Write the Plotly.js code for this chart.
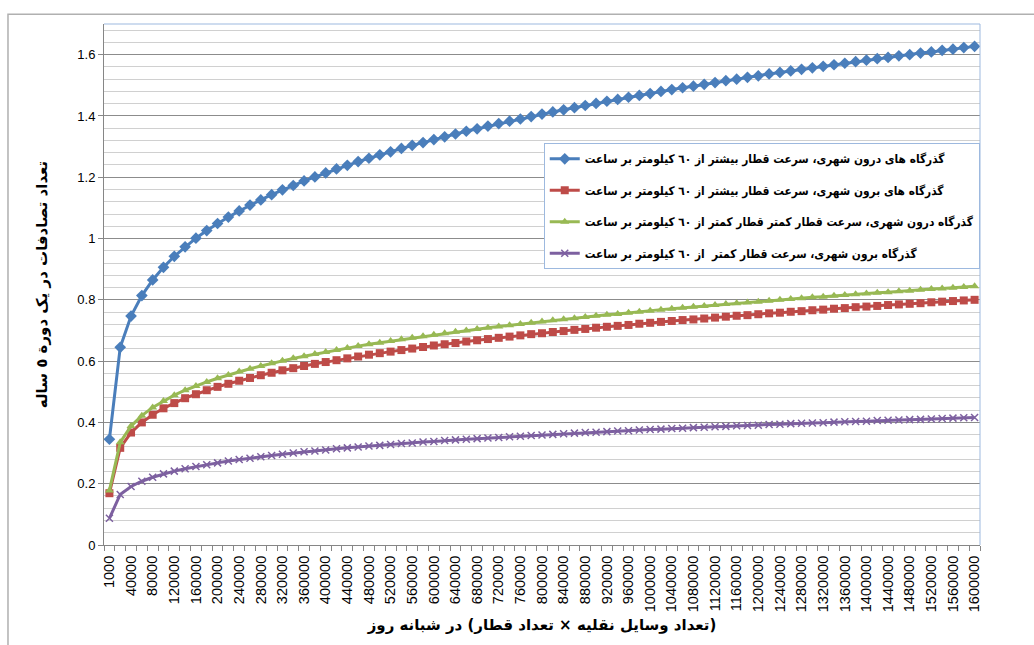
<!DOCTYPE html>
<html>
<head>
<meta charset="utf-8">
<script src="https://cdn.plot.ly/plotly-3.0.1.min.js"></script>
<style>html,body{margin:0;padding:0;background:#fff;}#chart{width:1034px;height:645px;}</style>
</head>
<body>
<div id="chart"></div>
<script>
const categories = ['1000','20000','40000','60000','80000','100000','120000','140000','160000','180000','200000',
'220000','240000','260000','280000','300000','320000','340000','360000','380000','400000',
'420000','440000','460000','480000','500000','520000','540000','560000','580000','600000',
'620000','640000','660000','680000','700000','720000','740000','760000','780000','800000',
'820000','840000','860000','880000','900000','920000','940000','960000','980000','1000000',
'1020000','1040000','1060000','1080000','1100000','1120000','1140000','1160000','1180000','1200000',
'1220000','1240000','1260000','1280000','1300000','1320000','1340000','1360000','1380000','1400000',
'1420000','1440000','1460000','1480000','1500000','1520000','1540000','1560000','1580000','1600000'];

const tickLabels = ['1000','40000','80000','120000','160000','200000','240000','280000','320000','360000','400000',
'440000','480000','520000','560000','600000','640000','680000','720000','760000','800000',
'840000','880000','920000','960000','1000000','1040000','1080000','1120000','1160000','1200000',
'1240000','1280000','1320000','1360000','1400000','1440000','1480000','1520000','1560000','1600000'];

const urbanFast = [0.345,
0.645,0.747,0.814,0.865,0.906,0.942,0.973,1.001,1.026,1.049,
1.070,1.090,1.109,1.126,1.143,1.159,1.173,1.188,1.201,1.214,
1.227,1.239,1.251,1.262,1.273,1.283,1.294,1.304,1.313,1.323,
1.332,1.341,1.350,1.358,1.367,1.375,1.383,1.390,1.398,1.406,
1.413,1.420,1.427,1.434,1.441,1.448,1.454,1.461,1.467,1.473,
1.480,1.486,1.492,1.497,1.503,1.509,1.515,1.520,1.526,1.531,
1.537,1.542,1.547,1.552,1.557,1.562,1.567,1.572,1.577,1.582,
1.587,1.591,1.596,1.600,1.605,1.609,1.614,1.618,1.623,1.627];

const ruralFast = [0.169,
0.317,0.367,0.400,0.425,0.446,0.463,0.479,0.492,0.505,0.516,
0.526,0.536,0.545,0.554,0.562,0.570,0.577,0.584,0.591,0.597,
0.603,0.609,0.615,0.621,0.626,0.631,0.636,0.641,0.646,0.651,
0.655,0.659,0.664,0.668,0.672,0.676,0.680,0.684,0.688,0.691,
0.695,0.698,0.702,0.705,0.709,0.712,0.715,0.718,0.722,0.725,
0.728,0.731,0.734,0.736,0.739,0.742,0.745,0.748,0.750,0.753,
0.756,0.758,0.761,0.763,0.766,0.768,0.771,0.773,0.776,0.778,
0.780,0.783,0.785,0.787,0.789,0.792,0.794,0.796,0.798,0.800];

const urbanSlow = [0.178,
0.335,0.388,0.422,0.449,0.470,0.489,0.505,0.519,0.532,0.544,
0.555,0.566,0.575,0.584,0.593,0.601,0.609,0.616,0.623,0.630,
0.636,0.643,0.649,0.655,0.660,0.666,0.671,0.676,0.681,0.686,
0.691,0.696,0.700,0.705,0.709,0.713,0.717,0.721,0.725,0.729,
0.733,0.737,0.740,0.744,0.748,0.751,0.754,0.758,0.761,0.764,
0.768,0.771,0.774,0.777,0.780,0.783,0.786,0.789,0.791,0.794,
0.797,0.800,0.803,0.805,0.808,0.810,0.813,0.816,0.818,0.821,
0.823,0.825,0.828,0.830,0.833,0.835,0.837,0.839,0.842,0.844];

const ruralSlow = [0.087,
0.165,0.191,0.208,0.221,0.232,0.241,0.249,0.256,0.262,0.268,
0.274,0.279,0.283,0.288,0.292,0.296,0.300,0.304,0.307,0.310,
0.314,0.317,0.320,0.323,0.325,0.328,0.331,0.333,0.336,0.338,
0.341,0.343,0.345,0.347,0.349,0.351,0.353,0.355,0.357,0.359,
0.361,0.363,0.365,0.367,0.368,0.370,0.372,0.373,0.375,0.377,
0.378,0.380,0.381,0.383,0.384,0.386,0.387,0.389,0.390,0.391,
0.393,0.394,0.396,0.397,0.398,0.399,0.401,0.402,0.403,0.404,
0.406,0.407,0.408,0.409,0.410,0.411,0.413,0.414,0.415,0.416];

const seriesNames = [
  'گذرگاه های درون شهری، سرعت قطار بیشتر از ٦٠ کیلومتر بر ساعت',
  'گذرگاه های برون شهری، سرعت قطار بیشتر از ٦٠ کیلومتر بر ساعت',
  'گذرگاه درون شهری، سرعت قطار کمتر قطار کمتر از ٦٠ کیلومتر بر ساعت',
  'گذرگاه برون شهری، سرعت قطار کمتر  از ٦٠ کیلومتر بر ساعت'
];
const xTitle = '\u200F(تعداد وسایل نقلیه × تعداد قطار) در شبانه روز\u200F';
const yTitle = 'تعداد تصادفات در یک دورة ٥ ساله';

const seriesValues = [urbanFast, ruralFast, urbanSlow, ruralSlow];
const colors = ['#4A7EBB', '#BE4B48', '#98B954', '#7D60A0'];
const symbols = ['diamond', 'square', 'triangle-up', 'x-thin'];
const sizes = [9, 8, 8, 7];

const traces = seriesValues.map((vals, i) => ({
  type: 'scatter',
  mode: 'lines+markers',
  x: categories,
  y: vals,
  name: seriesNames[i],
  legendgroup: 'g' + i,
  line: {color: colors[i], width: 3},
  marker: {symbol: symbols[i], size: sizes[i], color: colors[i],
           line: {color: colors[i], width: i === 3 ? 1.5 : 0}}
}));

const arabicFont = 'DejaVu Sans, sans-serif';
const legendFont = 'DejaVu Sans Condensed, DejaVu Sans, sans-serif';

const layout = {
  width: 1034, height: 645,
  paper_bgcolor: '#ffffff', plot_bgcolor: '#ffffff',
  margin: {l: 104, r: 54, t: 24, b: 100, pad: 0, autoexpand: false},
  showlegend: true,
  legend: {
    x: 0.502, y: 0.771, xanchor: 'left', yanchor: 'top',
    bgcolor: '#ffffff', bordercolor: '#9DB9DF', borderwidth: 1,
    font: {family: legendFont, size: 11.8, color: '#000000', weight: 'bold'},
    traceorder: 'grouped', tracegroupgap: 12.5, itemwidth: 30
  },
  xaxis: {
    type: 'category',
    range: [-0.5, categories.length - 0.5],
    tickmode: 'array',
    tickvals: categories,
    ticktext: categories.map(c => tickLabels.includes(c) ? c : ''),
    tickson: 'boundaries',
    tickangle: -90,
    ticks: 'outside', ticklen: 5, tickcolor: '#868686',
    ticklabelstandoff: 4,
    tickfont: {family: 'Liberation Sans, Arial, sans-serif', size: 14.5, color: '#000000'},
    showline: true, linecolor: '#868686', linewidth: 1,
    showgrid: false, zeroline: false,
    title: {text: xTitle, standoff: 8,
            font: {family: arabicFont, size: 15, color: '#000000', weight: 'bold'}}
  },
  yaxis: {
    range: [0, 1.7],
    tick0: 0, dtick: 0.2,
    ticks: 'outside', ticklen: 5, tickcolor: '#868686',
    tickfont: {family: 'Liberation Sans, Arial, sans-serif', size: 13, color: '#000000'},
    showline: true, linecolor: '#868686', linewidth: 1,
    showgrid: true, gridcolor: '#8C8C8C', gridwidth: 1,
    minor: {dtick: 0.04, tick0: 0, showgrid: true, gridcolor: '#D0D0D0', gridwidth: 1, ticks: ''},
    zeroline: false,
    title: {text: yTitle, standoff: 26,
            font: {family: arabicFont, size: 15, color: '#000000', weight: 'bold'}}
  },
  shapes: [
    {type: 'rect', xref: 'paper', yref: 'paper', x0: -0.1096, x1: 1.08, y0: -0.25, y1: 1.0185,
     line: {color: '#B0B0B0', width: 1.5}, fillcolor: 'rgba(0,0,0,0)', layer: 'below'},
    {type: 'line', xref: 'paper', yref: 'paper', x0: 0, x1: 1, y0: 1, y1: 1,
     line: {color: '#9DB9DF', width: 1}},
    {type: 'line', xref: 'paper', yref: 'paper', x0: 1, x1: 1, y0: 0, y1: 1,
     line: {color: '#9DB9DF', width: 1}}
  ]
};

Plotly.newPlot('chart', traces, layout, {staticPlot: true, displayModeBar: false});
</script>
</body>
</html>
